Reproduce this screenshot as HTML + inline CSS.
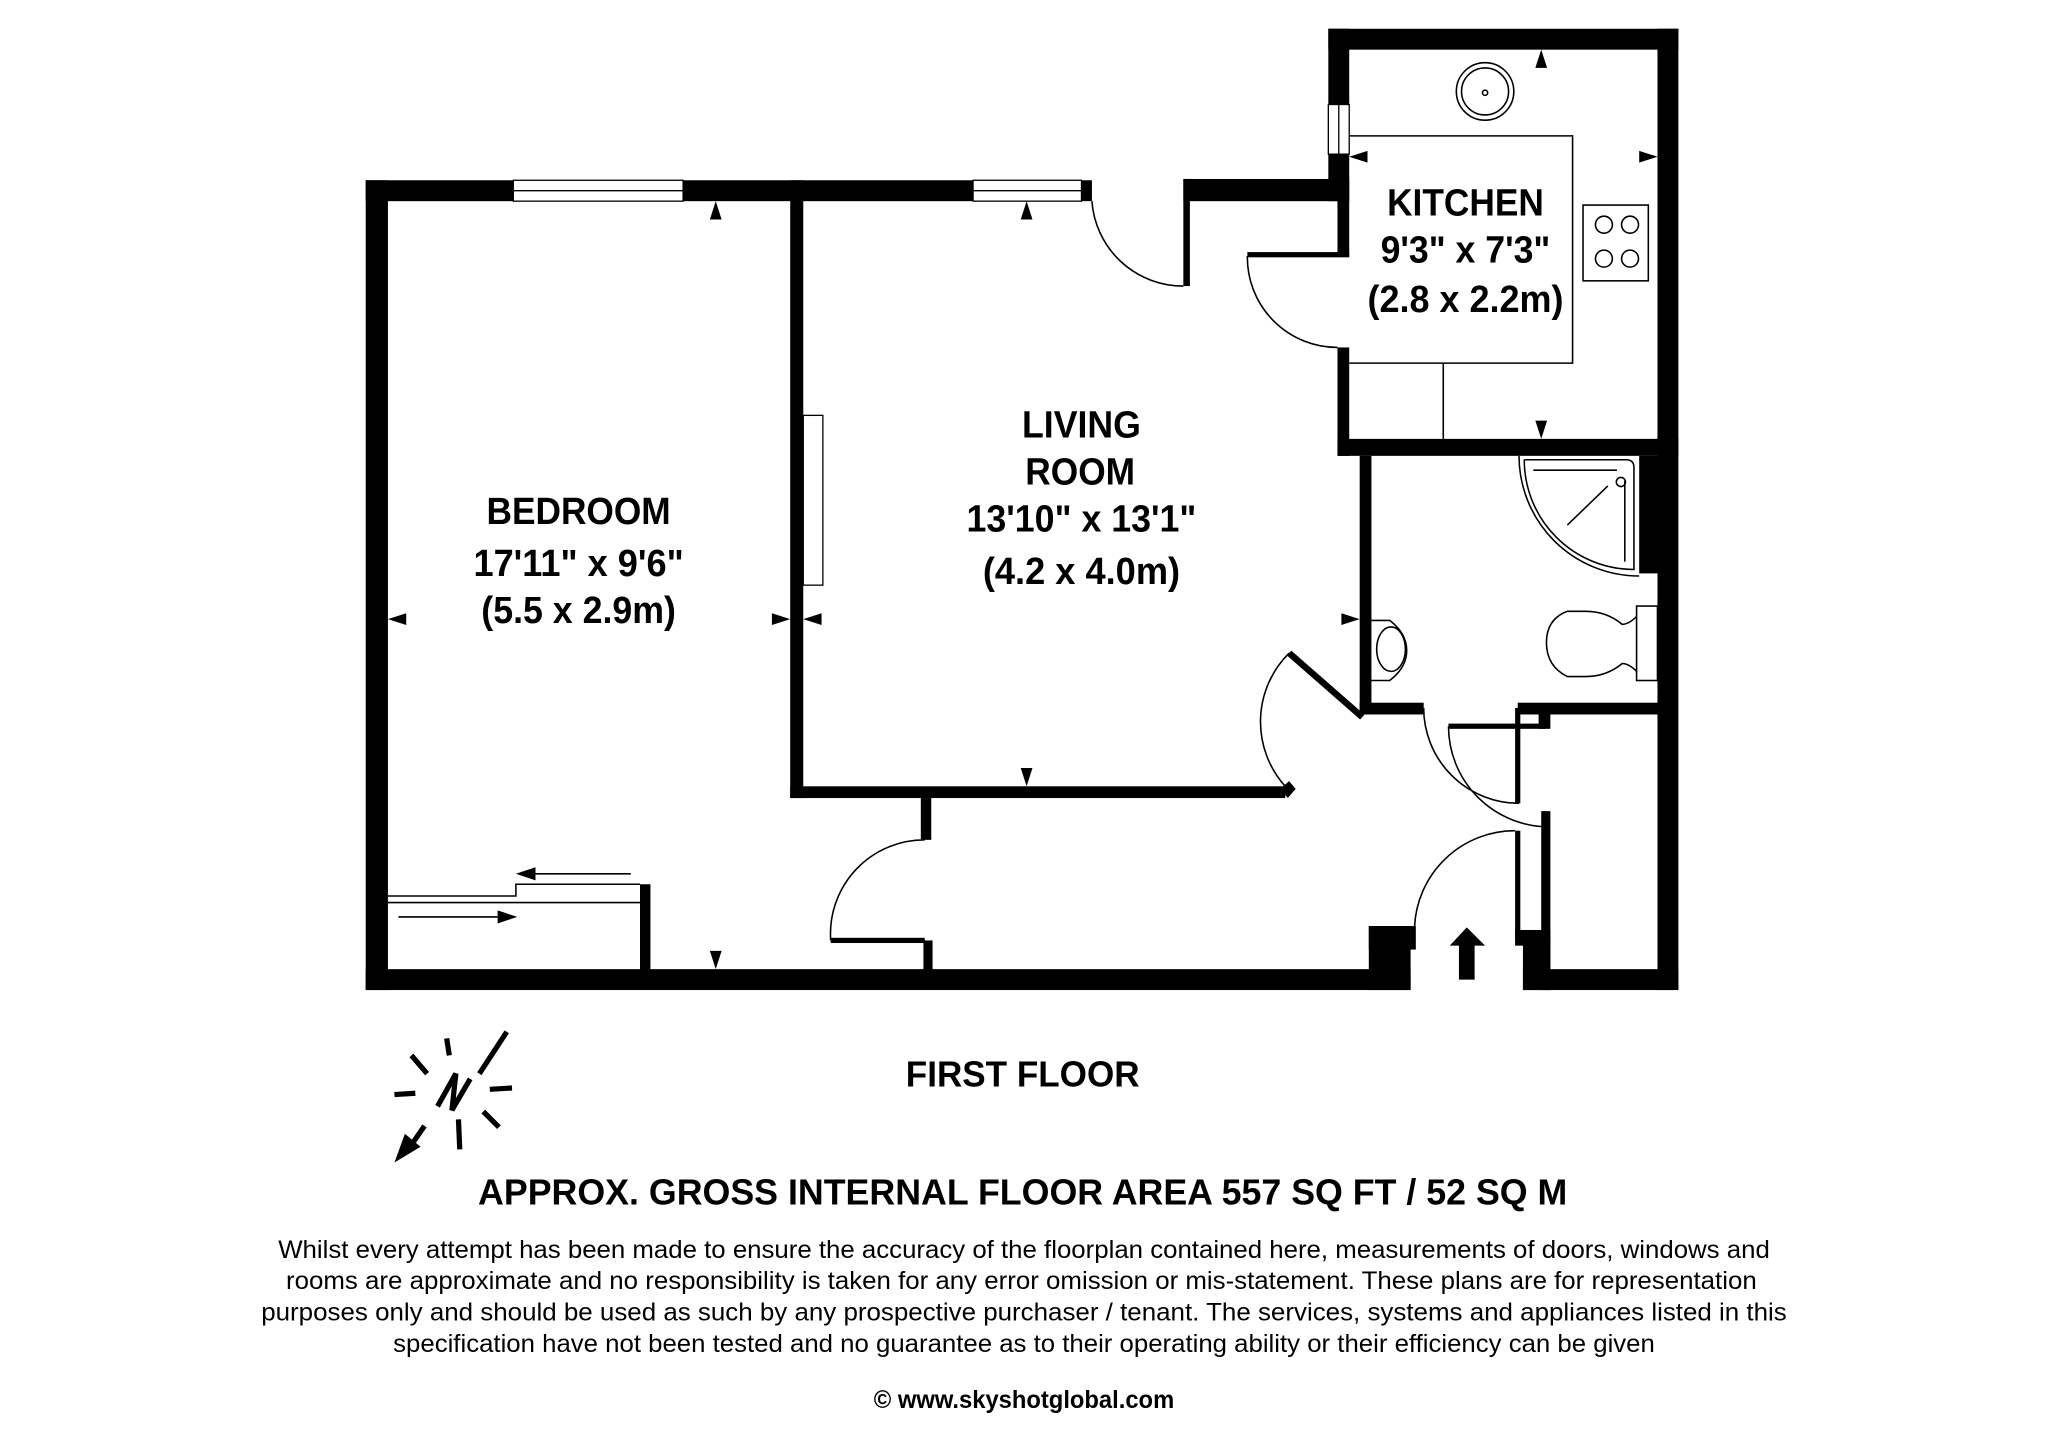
<!DOCTYPE html>
<html><head><meta charset="utf-8"><style>html,body{margin:0;padding:0;background:#fff}svg{display:block}</style></head>
<body>
<svg xmlns="http://www.w3.org/2000/svg" width="2048" height="1448" viewBox="0 0 1568 1108.6">
<rect width="1568" height="1108.6" fill="#fff"/>
<g fill="#000">
<rect x="280" y="138" width="17" height="620"/>
<rect x="280" y="138" width="556" height="16"/>
<rect x="906" y="137" width="126" height="17"/>
<rect x="906" y="137" width="5" height="82"/>
<rect x="1017" y="22" width="268" height="16"/>
<rect x="1017" y="22" width="16" height="132"/>
<rect x="1024" y="137" width="9" height="59"/>
<rect x="955" y="193" width="78" height="4"/>
<rect x="1024" y="266" width="9" height="83"/>
<rect x="1024" y="336" width="261" height="13"/>
<rect x="1269" y="22" width="16" height="736"/>
<rect x="1041" y="349" width="9" height="197"/>
<rect x="1255" y="349" width="15" height="90"/>
<rect x="1041" y="538" width="49" height="9"/>
<rect x="1162" y="538" width="108" height="9"/>
<rect x="1178" y="546" width="9" height="12"/>
<rect x="1109" y="554" width="74" height="4"/>
<rect x="1160" y="542" width="4" height="73"/>
<rect x="1160" y="636" width="4" height="84"/>
<rect x="1180" y="621" width="7" height="137"/>
<rect x="1160" y="712" width="27" height="12"/>
<rect x="1166" y="720" width="21" height="38"/>
<rect x="605" y="138" width="10" height="473"/>
<rect x="605" y="602" width="379" height="9"/>
<polygon points="980,604 987,598 992,604 986,611"/>
<line x1="987" y1="500" x2="1043" y2="549" stroke="#000" stroke-width="5"/>
<rect x="280" y="742" width="800" height="16"/>
<rect x="1048" y="709" width="32" height="49"/>
<rect x="1048" y="709" width="36" height="18"/>
<rect x="1166" y="742" width="119" height="16"/>
<rect x="705" y="611" width="8" height="32"/>
<rect x="636" y="718" width="72" height="4"/>
<rect x="707" y="720" width="7" height="24"/>
<rect x="490" y="677" width="8" height="66"/>
</g>
<g fill="#fff" stroke="#000" stroke-width="1">
<rect x="393" y="138" width="130" height="16"/>
<line x1="393" y1="146" x2="523" y2="146"/>
<rect x="745" y="138" width="83" height="16"/>
<line x1="745" y1="146" x2="828" y2="146"/>
<rect x="1017" y="80" width="16" height="38"/>
<line x1="1025" y1="80" x2="1025" y2="118"/>
<rect x="615" y="318" width="15" height="130"/>
</g>
<g fill="none" stroke="#000" stroke-width="1.2">
<path d="M836 154 A70 70 0 0 0 906 219"/>
<path d="M955 196 A69 69 0 0 0 1024 266"/>
<path d="M987 500 A74 74 0 0 0 984 602"/>
<path d="M1090 542 A73 73 0 0 0 1163 615"/>
<path d="M1109 556 A77 77 0 0 0 1186 633"/>
<path d="M1083 710 A77 77 0 0 1 1160 636"/>
<path d="M636 720 A72 72 0 0 1 708 643"/>
<polyline points="1033,104 1204,104 1204,278 1033,278"/>
<line x1="1105" y1="278" x2="1105" y2="336"/>
<rect x="1212" y="157" width="50" height="58"/>
<circle cx="1228" cy="172" r="6.5"/><circle cx="1248" cy="172" r="6.5"/>
<circle cx="1228" cy="198" r="6.5"/><circle cx="1248" cy="198" r="6.5"/>
<circle cx="1137" cy="70" r="22"/><circle cx="1137" cy="70" r="18"/><circle cx="1137" cy="71" r="2"/>
<path d="M1163 349 A92 92 0 0 0 1255 441"/>
<path d="M1167 352 L1245 352 Q1251 352 1251 358 L1251 436 A84 84 0 0 1 1167 352"/>
<line x1="1174" y1="360" x2="1238" y2="360"/>
<line x1="1244" y1="368" x2="1244" y2="430"/>
<line x1="1231" y1="372" x2="1200" y2="402"/>
<circle cx="1241" cy="369" r="3.5"/>
<path d="M1050 475 L1064 475 Q1077 485 1077 498 Q1077 511 1064 521 L1050 521"/>
<ellipse cx="1065" cy="497" rx="11" ry="17"/>
<rect x="1253" y="464" width="16" height="57"/>
<path d="M1253 472 Q1247 478 1242 478 Q1230 468 1214 468 L1200 468 Q1184 474 1184 492 Q1184 510 1200 518 L1214 518 Q1230 518 1242 508 Q1247 508 1253 514"/>
<polyline points="297,686 395,686 395,677 490,677"/>
<line x1="297" y1="691" x2="490" y2="691"/>
<line x1="405" y1="669" x2="483" y2="669"/>
<line x1="305" y1="702" x2="383" y2="702"/>
</g>
<g fill="#000">
<polygon points="395,669 410,664 410,674"/>
<polygon points="396,702 381,697 381,707"/>
<polygon points="548,154 543.5,168 552.5,168"/>
<polygon points="786,154 781.5,168 790.5,168"/>
<polygon points="1180,38 1175.5,52 1184.5,52"/>
<polygon points="1033,120 1047,115.5 1047,124.5"/>
<polygon points="1269,120 1255,115.5 1255,124.5"/>
<polygon points="1180,336 1175.5,322 1184.5,322"/>
<polygon points="297,474 311,469.5 311,478.5"/>
<polygon points="605,474 591,469.5 591,478.5"/>
<polygon points="615,474 629,469.5 629,478.5"/>
<polygon points="1041,474 1027,469.5 1027,478.5"/>
<polygon points="786,602 781.5,588 790.5,588"/>
<polygon points="548,742 543.5,728 552.5,728"/>
<polygon points="1123,710 1110,724 1117,724 1117,750 1129,750 1129,724 1137,724"/>
</g>
<g stroke="#000" stroke-width="4" fill="none" stroke-linecap="butt">
<line x1="342" y1="795" x2="344" y2="808"/>
<line x1="351" y1="857" x2="352" y2="880"/>
<line x1="315" y1="808" x2="327" y2="822"/>
<line x1="370" y1="851" x2="382" y2="863"/>
<line x1="302" y1="838" x2="318" y2="837"/>
<line x1="375" y1="834" x2="392" y2="833"/>
<line x1="388" y1="790" x2="367" y2="822"/>
<polyline points="335,847 349,822 346,850 360,826"/>
<line x1="325" y1="862" x2="314" y2="878"/>
</g>
<polygon points="302,890 310,868 322,878" fill="#000"/>
<g font-family="'Liberation Sans Narrow','Liberation Sans',sans-serif" font-weight="bold" fill="#000" text-anchor="middle" font-size="29">
<text x="443" y="401" textLength="141" lengthAdjust="spacingAndGlyphs">BEDROOM</text>
<text x="443" y="441" textLength="161" lengthAdjust="spacingAndGlyphs">17'11" x 9'6"</text>
<text x="443" y="477" textLength="149" lengthAdjust="spacingAndGlyphs">(5.5 x 2.9m)</text>
<text x="828" y="335" textLength="91" lengthAdjust="spacingAndGlyphs">LIVING</text>
<text x="827" y="371" textLength="84" lengthAdjust="spacingAndGlyphs">ROOM</text>
<text x="828" y="407" textLength="176" lengthAdjust="spacingAndGlyphs">13'10" x 13'1"</text>
<text x="828" y="447" textLength="151" lengthAdjust="spacingAndGlyphs">(4.2 x 4.0m)</text>
<text x="1122" y="165" textLength="120" lengthAdjust="spacingAndGlyphs">KITCHEN</text>
<text x="1122" y="201" textLength="130" lengthAdjust="spacingAndGlyphs">9'3" x 7'3"</text>
<text x="1122" y="239" textLength="150" lengthAdjust="spacingAndGlyphs">(2.8 x 2.2m)</text>
<text x="783" y="832" font-size="28" textLength="179" lengthAdjust="spacingAndGlyphs">FIRST FLOOR</text>
<text x="783" y="922" font-size="28" textLength="834" lengthAdjust="spacingAndGlyphs">APPROX. GROSS INTERNAL FLOOR AREA 557 SQ FT / 52 SQ M</text>
<text x="784" y="1078" font-size="19" textLength="230" lengthAdjust="spacingAndGlyphs">© www.skyshotglobal.com</text>
</g>
<g font-family="'Liberation Sans Narrow','Liberation Sans',sans-serif" fill="#000" text-anchor="middle" font-size="19">
<text x="784" y="963" textLength="1142" lengthAdjust="spacingAndGlyphs">Whilst every attempt has been made to ensure the accuracy of the floorplan contained here, measurements of doors, windows and</text>
<text x="782" y="987" textLength="1126" lengthAdjust="spacingAndGlyphs">rooms are approximate and no responsibility is taken for any error omission or mis-statement. These plans are for representation</text>
<text x="784" y="1011" textLength="1168" lengthAdjust="spacingAndGlyphs">purposes only and should  be used as such by any prospective purchaser / tenant. The services, systems and appliances listed in this</text>
<text x="784" y="1035" textLength="966" lengthAdjust="spacingAndGlyphs">specification have not been tested and no guarantee as to their operating ability or their efficiency can be given</text>
</g>
</svg>
</body></html>
